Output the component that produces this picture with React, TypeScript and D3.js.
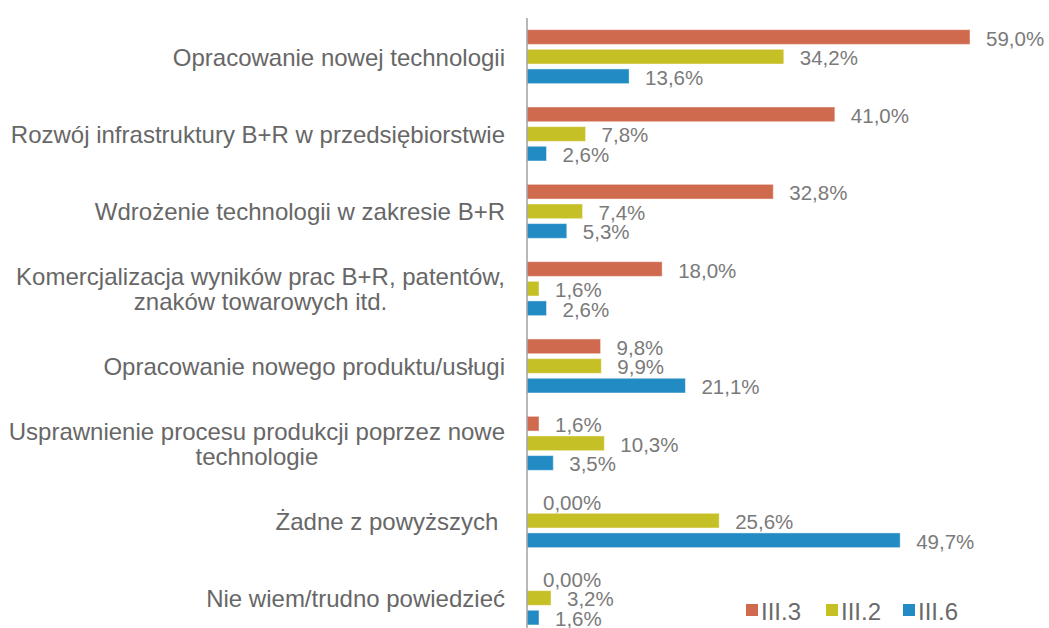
import React from "react";
import * as d3 from "d3";

const categories: string[][] = [
  ["Opracowanie nowej technologii"],
  ["Rozwój infrastruktury B+R w przedsiębiorstwie"],
  ["Wdrożenie technologii w zakresie B+R"],
  ["Komercjalizacja wyników prac B+R, patentów,", "znaków towarowych itd."],
  ["Opracowanie nowego produktu/usługi"],
  ["Usprawnienie procesu produkcji poprzez nowe", "technologie"],
  ["Żadne z powyższych "],
  ["Nie wiem/trudno powiedzieć"],
];

const seriesNames = ["III.3", "III.2", "III.6"];
const seriesColors = ["#D06A4E", "#C5C026", "#238BC3"];

const valuesIII3 = [59.0, 41.0, 32.8, 18.0, 9.8, 1.6, 0, 0];
const valuesIII2 = [34.2, 7.8, 7.4, 1.6, 9.9, 10.3, 25.6, 3.2];
const valuesIII6 = [13.6, 2.6, 5.3, 2.6, 21.1, 3.5, 49.7, 1.6];

const labelsIII3 = ["59,0%", "41,0%", "32,8%", "18,0%", "9,8%", "1,6%", "0,00%", "0,00%"];
const labelsIII2 = ["34,2%", "7,8%", "7,4%", "1,6%", "9,9%", "10,3%", "25,6%", "3,2%"];
const labelsIII6 = ["13,6%", "2,6%", "5,3%", "2,6%", "21,1%", "3,5%", "49,7%", "1,6%"];

const seriesValues = [valuesIII3, valuesIII2, valuesIII6];
const seriesLabels = [labelsIII3, labelsIII2, labelsIII6];

const W = 1049;
const H = 628;
const FONT = "'Liberation Sans', Arial, sans-serif";
const CAT_SIZE = 24;
const VAL_SIZE = 20.5;
const LEG_SIZE = 24;

function measure(text: string, size: number): number {
  const c = document.createElement("canvas").getContext("2d");
  if (!c) return text.length * size * 0.5;
  c.font = `${size}px ${FONT}`;
  return c.measureText(text).width;
}

export default function App() {
  const x0 = 527;
  const x = d3.scaleLinear().domain([0, 59]).range([x0, 970]);
  const y = d3
    .scaleBand<number>()
    .domain(d3.range(categories.length))
    .range([18, 18 + 8 * 77.33])
    .paddingInner(0.302)
    .paddingOuter(0.151);
  const ys = d3
    .scaleBand<number>()
    .domain([0, 1, 2])
    .range([0, y.bandwidth()])
    .paddingInner(0.25);

  const labelRight = 505;
  const lineH = 25;

  return (
    <svg
      width={W}
      height={H}
      style={{ position: "absolute", left: 0, top: 0, background: "#fff" }}
      fontFamily={FONT}
    >
      {/* bars */}
      {seriesValues.map((vals, s) =>
        vals.map((v, i) => {
          const by = (y(i) as number) + (ys(s) as number);
          return (
            <g key={`b${s}-${i}`}>
              {v > 0 && (
                <rect
                  x={x(0)}
                  y={by}
                  width={x(v) - x(0)}
                  height={ys.bandwidth()}
                  fill={seriesColors[s]}
                  stroke="rgba(255,255,255,0.45)"
                  strokeWidth={1}
                />
              )}
              <text
                x={x(v) + 16}
                y={by + ys.bandwidth() / 2 + 1}
                dominantBaseline="central"
                fontSize={VAL_SIZE}
                fill="#7a7a7a"
              >
                {seriesLabels[s][i]}
              </text>
            </g>
          );
        })
      )}

      {/* axis */}
      <line x1={x0} x2={x0} y1={18} y2={H} stroke="#a0a0a0" strokeWidth={1.5} />

      {/* category labels */}
      {categories.map((lines, i) => {
        const cy = (y(i) as number) + y.bandwidth() / 2;
        const widths = lines.map((l) => measure(l, CAT_SIZE));
        const maxW = Math.max(...widths);
        const cx = labelRight - maxW / 2;
        const startY = cy - ((lines.length - 1) * lineH) / 2;
        return (
          <text
            key={`c${i}`}
            fontSize={CAT_SIZE}
            fill="#676767"
            textAnchor="middle"
            dominantBaseline="central"
            style={{ whiteSpace: "pre" }}
          >
            {lines.map((l, k) => (
              <tspan key={k} x={cx} y={startY + k * lineH}>
                {l}
              </tspan>
            ))}
          </text>
        );
      })}

      {/* legend */}
      {seriesNames.map((n, s) => {
        const lx = [746, 826, 903][s];
        return (
          <g key={`l${s}`}>
            <rect x={lx} y={604} width={12} height={12} fill={seriesColors[s]} />
            <text x={lx + 15} y={611} dominantBaseline="central" fontSize={LEG_SIZE} fill="#6a6a6a">
              {n}
            </text>
          </g>
        );
      })}
    </svg>
  );
}
